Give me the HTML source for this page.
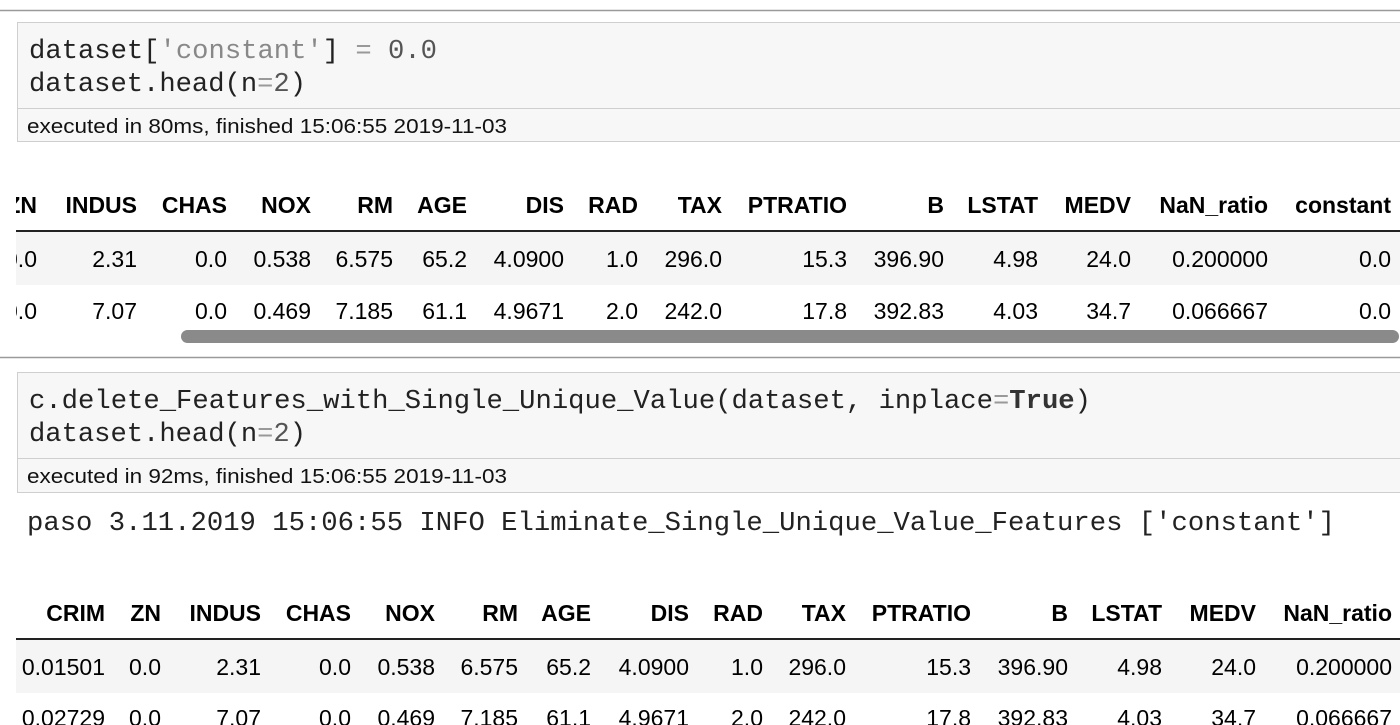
<!DOCTYPE html>
<html><head><meta charset="utf-8"><style>
html,body{margin:0;padding:0;background:#fff;width:1400px;height:725px;overflow:hidden}
svg{display:block}
.mono{font-family:"Liberation Mono",monospace;font-size:27px;fill:#222}
.sans{font-family:"Liberation Sans",Arial,sans-serif}
.hd{font-family:"Liberation Sans",Arial,sans-serif;font-weight:bold;font-size:23px;fill:#000}
.cell{font-family:"Liberation Sans",Arial,sans-serif;font-size:23px;fill:#000}
</style></head><body>
<svg id="page" width="1400" height="725" viewBox="0 0 1400 725">
  <defs><clipPath id="clip1"><rect x="16" y="150" width="1384" height="200"/></clipPath></defs>
  <line x1="0" y1="10.5" x2="1400" y2="10.5" stroke="#9a9a9a" stroke-width="1.5"/>
  <g>
    <rect x="17.5" y="22.5" width="1390" height="119" fill="#f7f7f7" stroke="#cfcfcf"/>
    <line x1="18" y1="108.5" x2="1400" y2="108.5" stroke="#cfcfcf"/>
    <text class="mono" x="29" y="58" textLength="408" lengthAdjust="spacingAndGlyphs">dataset[<tspan fill="#888">'constant'</tspan>] <tspan fill="#999">=</tspan> <tspan fill="#555">0.0</tspan></text>
    <text class="mono" x="29" y="91" textLength="277" lengthAdjust="spacingAndGlyphs">dataset.head(n<tspan fill="#999">=</tspan><tspan fill="#555">2</tspan>)</text>
    <text class="sans" x="27" y="133" font-size="20" fill="#111" textLength="480" lengthAdjust="spacingAndGlyphs">executed in 80ms, finished 15:06:55 2019-11-03</text>
  </g>
  <g id="table1" clip-path="url(#clip1)"></g>
  <rect x="181" y="330" width="1218" height="13" rx="6.5" fill="#8a8a8a"/>
  <line x1="0" y1="357.5" x2="1400" y2="357.5" stroke="#9a9a9a" stroke-width="1.5"/>
  <g>
    <rect x="17.5" y="372.5" width="1390" height="120" fill="#f7f7f7" stroke="#cfcfcf"/>
    <line x1="18" y1="458.5" x2="1400" y2="458.5" stroke="#cfcfcf"/>
    <text class="mono" x="29" y="408" textLength="1062" lengthAdjust="spacingAndGlyphs">c.delete_Features_with_Single_Unique_Value(dataset, inplace<tspan fill="#999">=</tspan><tspan font-weight="bold" fill="#333">True</tspan>)</text>
    <text class="mono" x="29" y="441" textLength="277" lengthAdjust="spacingAndGlyphs">dataset.head(n<tspan fill="#999">=</tspan><tspan fill="#555">2</tspan>)</text>
    <text class="sans" x="27" y="483" font-size="20" fill="#111" textLength="480" lengthAdjust="spacingAndGlyphs">executed in 92ms, finished 15:06:55 2019-11-03</text>
  </g>
  <text class="mono" x="27" y="530" textLength="1308" lengthAdjust="spacingAndGlyphs">paso 3.11.2019 15:06:55 INFO Eliminate_Single_Unique_Value_Features ['constant']</text>
  <g id="table2"></g>
</svg>
<script>
const NS='http://www.w3.org/2000/svg';
const headers1=['ZN','INDUS','CHAS','NOX','RM','AGE','DIS','RAD','TAX','PTRATIO','B','LSTAT','MEDV','NaN_ratio','constant'];
const rows1=[['0.0','2.31','0.0','0.538','6.575','65.2','4.0900','1.0','296.0','15.3','396.90','4.98','24.0','0.200000','0.0'],
             ['0.0','7.07','0.0','0.469','7.185','61.1','4.9671','2.0','242.0','17.8','392.83','4.03','34.7','0.066667','0.0']];
const right1=[37,137,227,311,393,467,564,638,722,847,944,1038,1131,1268,1391];
const headers2=['CRIM','ZN','INDUS','CHAS','NOX','RM','AGE','DIS','RAD','TAX','PTRATIO','B','LSTAT','MEDV','NaN_ratio'];
const rows2=[['0.01501','0.0','2.31','0.0','0.538','6.575','65.2','4.0900','1.0','296.0','15.3','396.90','4.98','24.0','0.200000'],
             ['0.02729','0.0','7.07','0.0','0.469','7.185','61.1','4.9671','2.0','242.0','17.8','392.83','4.03','34.7','0.066667']];
const right2=[105,161,261,351,435,518,591,689,763,846,971,1068,1162,1256,1392];

function mk(tag,attrs){const e=document.createElementNS(NS,tag);for(const k in attrs)e.setAttribute(k,attrs[k]);return e;}
function build(g,headers,rows,right,hy,lineY,rowY){
  const bg=mk('rect',{x:16,y:lineY+1,width:1384,height:53,fill:'#f5f5f5'});
  
  
  g.appendChild(bg);
  const ln=mk('line',{x1:16,y1:lineY,x2:1400,y2:lineY,stroke:'#222','stroke-width':2});
  
  
  g.appendChild(ln);
  headers.forEach((h,i)=>{
    const t=mk('text',{x:right[i],y:hy,'text-anchor':'end',class:'hd'});
    t.textContent=h;
    
    
    g.appendChild(t);
  });
  rows.forEach((r,ri)=>{
    r.forEach((v,i)=>{
      const t=mk('text',{x:right[i],y:rowY[ri],'text-anchor':'end',class:'cell'});
      t.textContent=v;
      
      
      g.appendChild(t);
    });
  });
}
build(document.getElementById('table1'),headers1,rows1,right1,213,231,[267,319]);
build(document.getElementById('table2'),headers2,rows2,right2,621,639,[675,726]);
</script>
</body></html>
